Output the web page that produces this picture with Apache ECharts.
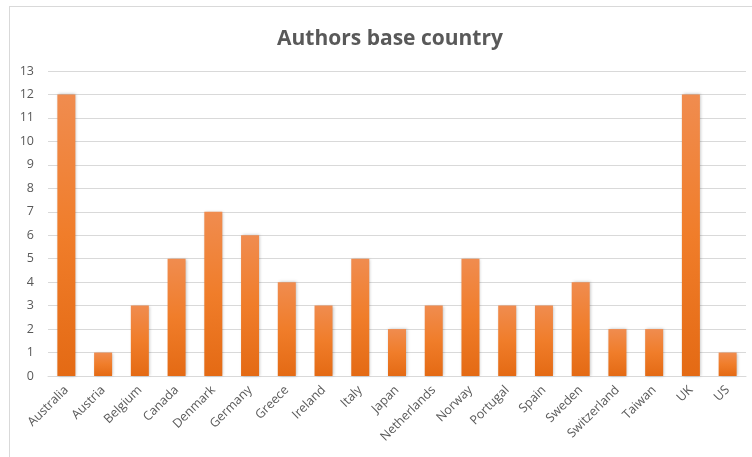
<!DOCTYPE html>
<html>
<head>
<meta charset="utf-8">
<script src="https://cdn.jsdelivr.net/npm/echarts@6/dist/echarts.min.js"></script>
<style>
  html, body { margin: 0; padding: 0; background: #ffffff; }
  #frame { position: absolute; left: 9px; top: 6px; width: 760px; height: 470px; border: 1px solid #d9d9d9; box-sizing: border-box; }
  #chart { position: absolute; left: 0; top: 0; width: 752px; height: 457px; }
</style>
</head>
<body>
<div id="frame"></div>
<div id="chart"></div>
<script>
// Number of authors by base country
const countries = ['Australia', 'Austria', 'Belgium', 'Canada', 'Denmark', 'Germany', 'Greece',
  'Ireland', 'Italy', 'Japan', 'Netherlands', 'Norway', 'Portugal', 'Spain', 'Sweden',
  'Switzerland', 'Taiwan', 'UK', 'US'];
const authorCounts = [12, 1, 3, 5, 7, 6, 4, 3, 5, 2, 3, 5, 3, 3, 4, 2, 2, 12, 1];
const yTicks = { min: 0, max: 13, step: 1 };

const chart = echarts.init(document.getElementById('chart'), null, { renderer: 'canvas' });
const textFont = '"Open Sans", "Liberation Sans", sans-serif';

chart.setOption({
  animation: false,
  backgroundColor: 'transparent',
  title: {
    text: 'Authors base country',
    left: 385,
    textAlign: 'center',
    top: 24,
    textStyle: { fontFamily: textFont, fontSize: 21, fontWeight: 'bold', color: '#595959' }
  },
  grid: { left: 48, right: 6, top: 71, bottom: 81 },
  xAxis: {
    type: 'category',
    data: countries,
    axisLine: { lineStyle: { color: '#d9d9d9' } },
    axisTick: { show: false },
    axisLabel: { rotate: 45, interval: 0, color: '#595959', fontFamily: textFont, fontSize: 12.5, margin: 12 }
  },
  yAxis: {
    type: 'value',
    min: yTicks.min,
    max: yTicks.max,
    interval: yTicks.step,
    axisLine: { show: false },
    axisTick: { show: false },
    axisLabel: { color: '#595959', fontFamily: textFont, fontSize: 12.5, margin: 14 },
    splitLine: { lineStyle: { color: '#d9d9d9', width: 1 } }
  },
  series: [{
    type: 'bar',
    data: authorCounts,
    barWidth: 18,
    itemStyle: {
      color: new echarts.graphic.LinearGradient(0, 0, 0, 1, [
        { offset: 0, color: '#f08c4f' },
        { offset: 0.5, color: '#f07d2a' },
        { offset: 1, color: '#e46a14' }
      ]),
      shadowColor: 'rgba(0,0,0,0.25)',
      shadowBlur: 3,
      shadowOffsetX: 1
    }
  }]
});
</script>
</body>
</html>
